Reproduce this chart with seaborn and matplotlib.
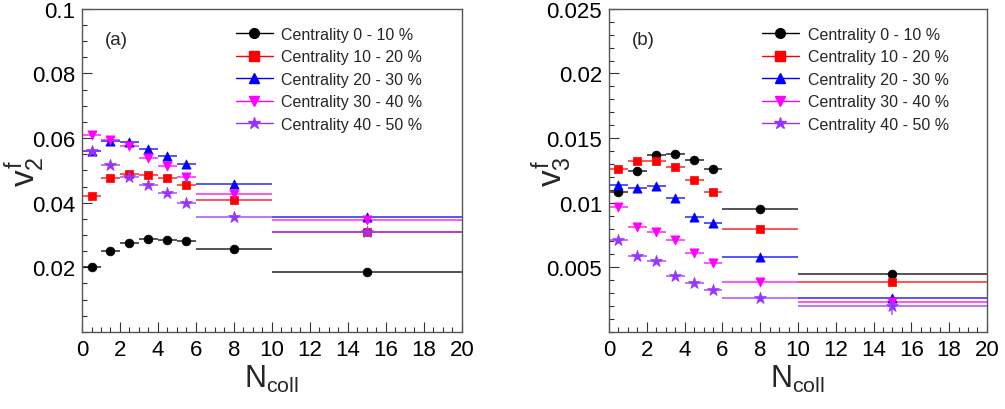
import seaborn as sns
import matplotlib.pyplot as plt
from matplotlib.lines import Line2D
from matplotlib.ticker import MultipleLocator, FixedLocator, FuncFormatter

# N_coll bins (centre and half width)
ncoll = [0.5, 1.5, 2.5, 3.5, 4.5, 5.5, 8, 15]
ncoll_err = [0.5, 0.5, 0.5, 0.5, 0.5, 0.5, 2, 5]

labels = ["Centrality 0 - 10 %", "Centrality 10 - 20 %", "Centrality 20 - 30 %",
          "Centrality 30 - 40 %", "Centrality 40 - 50 %"]

# v2^f
v2_0_10 = [0.0202, 0.0252, 0.0275, 0.0288, 0.0283, 0.0280, 0.0256, 0.0186]
v2_10_20 = [0.0421, 0.0475, 0.0489, 0.0485, 0.0475, 0.0454, 0.0407, 0.0309]
v2_20_30 = [0.0560, 0.0590, 0.0587, 0.0566, 0.0545, 0.0520, 0.0457, 0.0356]
v2_30_40 = [0.0611, 0.0595, 0.0574, 0.0539, 0.0515, 0.0480, 0.0426, 0.0346]
v2_40_50 = [0.0560, 0.0518, 0.0478, 0.0455, 0.0430, 0.0400, 0.0355, 0.0310]

# v3^f
v3_0_10 = [0.01083, 0.01245, 0.01366, 0.0138, 0.0133, 0.0126, 0.00953, 0.0045]
v3_10_20 = [0.0126, 0.0132, 0.0132, 0.01276, 0.01173, 0.01083, 0.00793, 0.00388]
v3_20_30 = [0.0114, 0.0111, 0.0113, 0.0104, 0.0089, 0.0084, 0.0058, 0.0026]
v3_30_40 = [0.00966, 0.0081, 0.0077, 0.0071, 0.0061, 0.00535, 0.0039, 0.00235]
v3_40_50 = [0.00713, 0.0059, 0.00545, 0.00436, 0.0038, 0.00328, 0.00264, 0.0020]
v3_40_50_yerr = [0, 0, 0, 0, 0, 0, 0, 0.0007]

colors = ["black", "#ff0000", "#0000ff", "#ff00ff", "#9933ff"]
markers = ["o", "s", "^", "v", "*"]
msizes = [40, 36, 44, 44, 80]

sns.set_style("ticks")
plt.rcParams["font.family"] = ["Liberation Sans", "DejaVu Sans"]
plt.rcParams["mathtext.fontset"] = "custom"
plt.rcParams["mathtext.rm"] = "Liberation Sans"
plt.rcParams["mathtext.it"] = "Liberation Sans"


def draw_panel(ax, series, yerrs, ylim, ymajor, yminor, ylabel, tag):
    for i, vals in enumerate(series):
        ax.errorbar(ncoll, vals, xerr=ncoll_err, yerr=yerrs[i], fmt="none",
                    ecolor=colors[i], elinewidth=1.1, capsize=0, alpha=0.85)
        sns.scatterplot(x=ncoll, y=vals, marker=markers[i], color=colors[i],
                        edgecolor=colors[i], s=msizes[i], linewidth=0.5,
                        ax=ax, zorder=3, legend=False)
    ax.set_xlim(0, 20)
    ax.set_ylim(*ylim)
    ax.xaxis.set_major_locator(MultipleLocator(2))
    ax.xaxis.set_minor_locator(MultipleLocator(0.5))
    ax.yaxis.set_major_locator(FixedLocator(ymajor))
    ax.yaxis.set_minor_locator(MultipleLocator(yminor))
    ax.yaxis.set_major_formatter(FuncFormatter(lambda v, p: "%g" % v))
    ax.tick_params(which="major", direction="in", length=7, width=0.8,
                   labelsize=16, colors="#333333", labelcolor="black", pad=5)
    ax.tick_params(which="minor", direction="in", length=3.6, width=0.8,
                   colors="#333333")
    for sp in ax.spines.values():
        sp.set_color("#555555")
        sp.set_linewidth(1.0)
    ax.set_xlabel(r"N$_{\mathrm{coll}}$", fontsize=22, labelpad=2)
    ax.set_ylabel(ylabel, fontsize=24)
    ax.yaxis.set_label_coords(-0.092, 0.5)
    ax.text(0.06, 0.905, tag, transform=ax.transAxes, fontsize=13.5, va="center")

    handles = [Line2D([], [], color=colors[i], marker=markers[i], lw=1.0,
                      markersize=7 if markers[i] != "*" else 9)
               for i in range(5)]
    ax.legend(handles, labels, loc="upper left", bbox_to_anchor=(0.405, 0.945),
              frameon=False, fontsize=11.5, handlelength=2.3, handletextpad=0.55,
              labelspacing=0.47, borderpad=0, borderaxespad=0)


fig = plt.figure(figsize=(10.05, 4.1), dpi=100)
ax1 = fig.add_axes([0.0816, 0.188, 0.378, 0.788])
ax2 = fig.add_axes([0.606, 0.188, 0.376, 0.788])

zeros = [None] * 5
draw_panel(ax1, [v2_0_10, v2_10_20, v2_20_30, v2_30_40, v2_40_50], zeros,
           (0, 0.1), [0.02, 0.04, 0.06, 0.08, 0.1], 0.005, r"$v_2^f$", "(a)")
draw_panel(ax2, [v3_0_10, v3_10_20, v3_20_30, v3_30_40, v3_40_50],
           [None, None, None, None, v3_40_50_yerr],
           (0, 0.025), [0.005, 0.01, 0.015, 0.02, 0.025], 0.001, r"$v_3^f$", "(b)")

fig.savefig("out.png", dpi=100)
